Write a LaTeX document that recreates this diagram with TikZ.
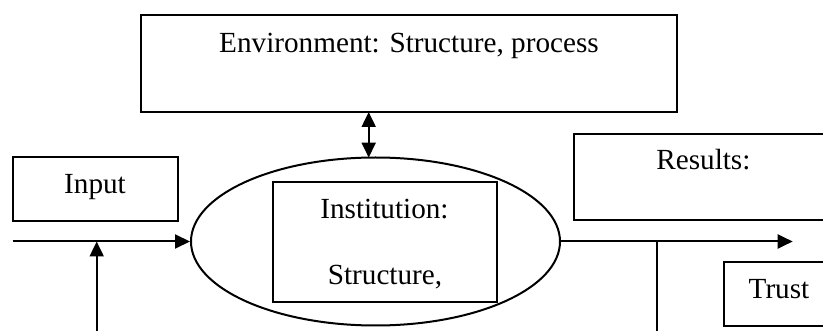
\documentclass[tikz,border=0pt]{standalone}
\usepackage{fontspec}
\setmainfont{Liberation Serif}
\usetikzlibrary{arrows.meta,shapes.geometric}
\begin{document}
\begin{tikzpicture}[x=1pt,y=-1pt,
  line width=2pt,
  box/.style={draw, rectangle, inner sep=0pt},
  txt/.style={anchor=base, inner sep=0pt, font=\fontsize{29.2}{33}\selectfont},
  tip/.style={-{Triangle[length=15pt,width=14pt]}},
  dtip/.style={{Triangle[length=15pt,width=14pt]}-{Triangle[length=15pt,width=14pt]}}]
\useasboundingbox (0,0) rectangle (823,331);
\clip (0,0) rectangle (823,331);
% boxes
\node[box, minimum width=536pt, minimum height=97pt] (env) at (409,63.5) {};
\node[txt] (envt) at (409,52.7) {Environment: Structure, process};
\node[box, minimum width=165pt, minimum height=63.4pt] (inp) at (95.2,189) {};
\node[txt] (inpt) at (95,193.3) {Input};
\node[draw, ellipse, inner sep=0pt, minimum width=369pt, minimum height=168pt] (ell) at (375.5,241.5) {};
\node[box, minimum width=224pt, minimum height=120pt] (inst) at (384.7,242) {};
\node[txt] (instt) at (384.5,218.3) {Institution:};
\node[txt] (strt) at (385,285) {Structure,};
\node[box, minimum width=260pt, minimum height=86pt] (res) at (704,177) {};
\node[txt] (rest) at (703.4,170) {Results:};
\node[box, minimum width=110pt, minimum height=63.2pt] (trust) at (779,294.1) {};
\node[txt] (trustt) at (779,298.3) {Trust};
% connectors
\coordinate (lin) at (12.7,241.5);
\coordinate (rout) at (792.7,241.5);
\coordinate (lbot) at (96.7,340);
\coordinate (ljoin) at (96.7,241.5);
\coordinate (rjoin) at (656.7,241.5);
\coordinate (rbot) at (656.7,340);
\coordinate (etop) at (368.7,112);
\coordinate (ebot) at (368.7,157.6);
\draw[tip] (lin) -- (ell.west);
\draw[tip] (lbot) -- (ljoin);
\draw[tip] (ell.east) -- (rout);
\draw (rjoin) -- (rbot);
\draw[dtip] (etop) -- (ebot);
\end{tikzpicture}
\end{document}
